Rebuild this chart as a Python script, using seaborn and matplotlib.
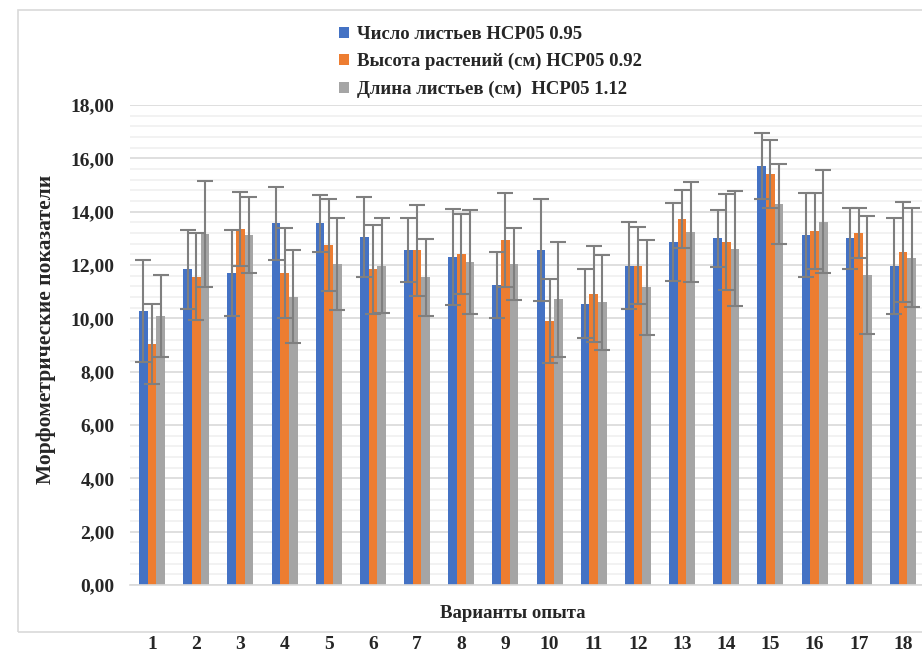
import matplotlib.pyplot as plt
import seaborn as sns
import pandas as pd
from matplotlib.patches import Rectangle
from matplotlib.ticker import MultipleLocator, FuncFormatter

# ===============================
# Données
# ===============================
variants = [str(i) for i in range(1, 19)]
series_names = ["Число листьев НСР05 0.95",
                "Высота растений (см) НСР05 0.92",
                "Длина листьев (см)  НСР05 1.12"]

leaf_count = [10.27, 11.84, 11.70, 13.57, 13.57, 13.04, 12.55, 12.30, 11.26,
              12.55, 10.55, 11.98, 12.87, 13.00, 15.71, 13.12, 13.00, 11.98]
leaf_count_err = [1.90, 1.48, 1.62, 1.37, 1.07, 1.50, 1.20, 1.80, 1.24,
                  1.91, 1.30, 1.64, 1.47, 1.08, 1.24, 1.58, 1.15, 1.80]

plant_height = [9.04, 11.56, 13.35, 11.70, 12.75, 11.84, 12.55, 12.41, 12.94,
                9.90, 10.91, 11.98, 13.71, 12.87, 15.41, 13.28, 13.20, 12.49]
plant_height_err = [1.49, 1.64, 1.40, 1.69, 1.71, 1.67, 1.71, 1.50, 1.77,
                    1.58, 1.79, 1.43, 1.09, 1.80, 1.29, 1.42, 0.95, 1.88]

leaf_length = [10.10, 13.16, 13.12, 10.81, 12.04, 11.98, 11.54, 12.11, 12.04,
               10.71, 10.61, 11.16, 13.24, 12.61, 14.29, 13.62, 11.63, 12.27]
leaf_length_err = [1.54, 1.99, 1.42, 1.75, 1.71, 1.77, 1.44, 1.95, 1.35,
                   2.15, 1.78, 1.78, 1.87, 2.15, 1.50, 1.93, 2.22, 1.85]

colors = ["#4472C4", "#ED7D31", "#A5A5A5"]

df = pd.DataFrame({
    "variant": variants * 3,
    "series": [s for s in series_names for _ in variants],
    "value": leaf_count + plant_height + leaf_length,
})
errors = [leaf_count_err, plant_height_err, leaf_length_err]

# ===============================
# Figure
# ===============================
sns.set_style("white")
plt.rcParams["font.family"] = ["Liberation Serif", "DejaVu Serif"]
plt.rcParams["font.weight"] = "bold"

fig = plt.figure(figsize=(9.22, 6.52), dpi=100)
ax = fig.add_axes([130 / 922, 67 / 652, 795 / 922, 480 / 652])

sns.barplot(data=df, x="variant", y="value", hue="series", palette=colors,
            width=0.59, linewidth=0, saturation=1, ax=ax, legend=True)

# barres d'erreur
for cont, err in zip(ax.containers, errors):
    xs = [b.get_x() + b.get_width() / 2 for b in cont]
    ys = [b.get_height() for b in cont]
    ax.errorbar(xs, ys, yerr=err, fmt="none", ecolor="#7F7F7F",
                elinewidth=1.5, capsize=5.5, capthick=1.5, zorder=3)

ax.set_ylim(0, 18)
ax.set_xlim(-0.5, 17.5)
ax.yaxis.set_major_locator(MultipleLocator(2))
ax.yaxis.set_minor_locator(MultipleLocator(0.4))
ax.yaxis.set_major_formatter(FuncFormatter(lambda v, p: f"{v:.2f}".replace(".", ",")))
ax.grid(axis="y", which="major", color="#D9D9D9", linewidth=1.2)
ax.grid(axis="y", which="minor", color="#F0F0F0", linewidth=1.2)
ax.set_axisbelow(True)

for s in ["top", "right", "left"]:
    ax.spines[s].set_visible(False)
ax.spines["bottom"].set_color("#D9D9D9")
ax.spines["bottom"].set_linewidth(1.2)

ax.tick_params(axis="y", which="both", length=0, pad=11, labelsize=14)
ax.tick_params(axis="x", length=0, pad=37, labelsize=14)
for lab in ax.get_xticklabels() + ax.get_yticklabels():
    lab.set_fontweight("bold")

ax.set_xlabel("")
ax.set_ylabel("")
fig.text(513 / 922, 1 - 613 / 652, "Варианты опыта", ha="center", va="center",
         fontsize=13.5, fontweight="bold")
fig.text(46 / 922, 1 - 329 / 652, "Морфометрические показатели", ha="center",
         va="center", rotation=90, fontsize=15.5, fontweight="bold")

# légende
handles, labels = ax.get_legend_handles_labels()
ax.legend_.remove()
fig.legend(handles, labels, loc="upper left", bbox_to_anchor=(322 / 922, 1 - 9 / 652),
           frameon=False, handlelength=0.55, handleheight=0.55,
           handletextpad=0.4, labelspacing=0.55, prop={"weight": "bold", "size": 13.5})

# cadre du graphique
fig.patches.append(Rectangle((18 / 922, 1 - 632 / 652), 1.0, 622 / 652,
                             transform=fig.transFigure, fill=False,
                             edgecolor="#D9D9D9", linewidth=1.2))

fig.savefig("out.png", dpi=100)
